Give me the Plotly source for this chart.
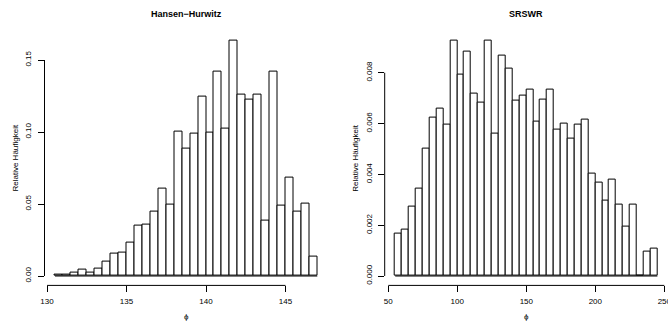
import numpy as np
import plotly.graph_objects as go

# ---- data ----
hh_start = 130.5
hh_width = 0.5
hh_density = [0.0007, 0.0007, 0.0023, 0.0044, 0.0025, 0.0053, 0.0100, 0.0153, 0.0164, 0.0229,
              0.0350, 0.0360, 0.0444, 0.0604, 0.0495, 0.1000, 0.0884, 0.0988, 0.1245, 0.0995,
              0.1417, 0.1025, 0.1632, 0.1259, 0.1225, 0.1259, 0.0384, 0.1421, 0.0488, 0.0685,
              0.0449, 0.0500, 0.0134]
sr_start = 55
sr_width = 5
sr_density = [0.00168, 0.00181, 0.00275, 0.00345, 0.00501, 0.00623, 0.00657, 0.00595, 0.00925, 0.00792,
              0.00884, 0.00717, 0.00681, 0.00925, 0.00559, 0.00868, 0.00818, 0.00691, 0.00710, 0.00733,
              0.00606, 0.00694, 0.00732, 0.00577, 0.00599, 0.00540, 0.00597, 0.00616, 0.00404, 0.00369,
              0.00296, 0.00378, 0.00283, 0.00195, 0.00283, 0.0, 0.00098, 0.00109]
hh_xticks = [130, 135, 140, 145]
hh_yticks = [0.00, 0.05, 0.10, 0.15]
hh_ylabels = ["0.00", "0.05", "0.10", "0.15"]
sr_xticks = [50, 100, 150, 200, 250]
sr_yticks = [0.000, 0.002, 0.004, 0.006, 0.008]
sr_ylabels = ["0.000", "0.002", "0.004", "0.006", "0.008"]
titles = ["Hansen−Hurwitz", "SRSWR"]
ylab = "Relative Häufigkeit"
xlab = "ϕ"

W, H = 668, 322
FONT = "Liberation Sans, Arial, sans-serif"

def rng(lo, hi):
    d = (hi - lo) * 0.04
    return [lo - d, hi + d]

fig = go.Figure()
panels = [
    (hh_start, hh_width, hh_density, hh_xticks, hh_yticks, hh_ylabels, "x", "y", [44.5, 327.8]),
    (sr_start, sr_width, sr_density, sr_xticks, sr_yticks, sr_ylabels, "x2", "y2", [384.7, 667.9]),
]
ytop_px, ybot_px = 31.6, 285.4
ydom = [(H - ybot_px) / H, (H - ytop_px) / H]
shapes = []
annotations = []
for i, (start, width, dens, xt, yt, yl, xa, ya, dom_px) in enumerate(panels):
    dens = np.array(dens)
    n = len(dens)
    centers = start + width * (np.arange(n) + 0.5)
    fig.add_trace(go.Bar(x=centers, y=dens, width=width, xaxis=xa, yaxis=ya,
                         marker=dict(color="white", line=dict(color="black", width=1)),
                         showlegend=False, hoverinfo="skip", cliponaxis=False))
    xr = rng(start, start + width * n)
    yr = rng(0, dens.max())
    sfx = "" if i == 0 else "2"
    xdom = [dom_px[0] / W, dom_px[1] / W]
    fig.update_layout(**{
        "xaxis" + sfx: dict(domain=xdom, range=xr, tickvals=xt, ticktext=[str(v) for v in xt],
                            ticks="outside", ticklen=6, tickcolor="black", showgrid=False,
                            zeroline=False, showline=False, anchor=ya, automargin=False,
                            ticklabelstandoff=2, ticklabeloverflow="allow",
                            tickfont=dict(size=8, family=FONT, color="black")),
        "yaxis" + sfx: dict(domain=ydom, range=yr, tickvals=yt, ticktext=yl, tickangle=-90,
                            ticks="outside", ticklen=6, tickcolor="black", showgrid=False,
                            zeroline=False, showline=False, anchor=xa, ticklabelstandoff=3,
                            automargin=False,
                            tickfont=dict(size=8, family=FONT, color="black")),
    })
    # R-style axis lines spanning first to last tick
    shapes.append(dict(type="line", xref=xa, yref=ya + " domain", x0=xt[0], x1=xt[-1], y0=0, y1=0,
                       line=dict(color="black", width=1), layer="above"))
    shapes.append(dict(type="line", xref=xa + " domain", yref=ya, x0=0, x1=0, y0=yt[0], y1=yt[-1],
                       line=dict(color="black", width=1), layer="above"))
    # histogram baseline (bottom edges of all bins, including empty ones)
    shapes.append(dict(type="line", xref=xa, yref=ya, x0=start, x1=start + width * n, y0=0, y1=0,
                       line=dict(color="black", width=1), layer="above"))
    cx = (xdom[0] + xdom[1]) / 2
    annotations.append(dict(text="<b>" + titles[i] + "</b>", xref="paper", yref="paper", x=cx,
                            y=(H - 14) / H, showarrow=False, xanchor="center", yanchor="middle",
                            font=dict(size=9, family=FONT, color="black")))
    annotations.append(dict(text=xlab, xref="paper", yref="paper", x=cx, y=(H - 316) / H,
                            showarrow=False, xanchor="center", yanchor="middle",
                            font=dict(size=8, family=FONT, color="black")))
    annotations.append(dict(text=ylab, xref="paper", yref="paper", x=(dom_px[0] - 29.5) / W,
                            y=(ydom[0] + ydom[1]) / 2, showarrow=False, textangle=-90,
                            xanchor="center", yanchor="middle",
                            font=dict(size=8, family=FONT, color="black")))

fig.update_layout(width=W, height=H, margin=dict(l=0, r=0, t=0, b=0, autoexpand=False),
                  paper_bgcolor="white", plot_bgcolor="white", bargap=0,
                  shapes=shapes, annotations=annotations,
                  font=dict(family=FONT, size=8, color="black"))
fig.write_html("out.html", config={"displayModeBar": False},
               post_script="document.body.style.margin='0';document.body.style.overflow='hidden';")
